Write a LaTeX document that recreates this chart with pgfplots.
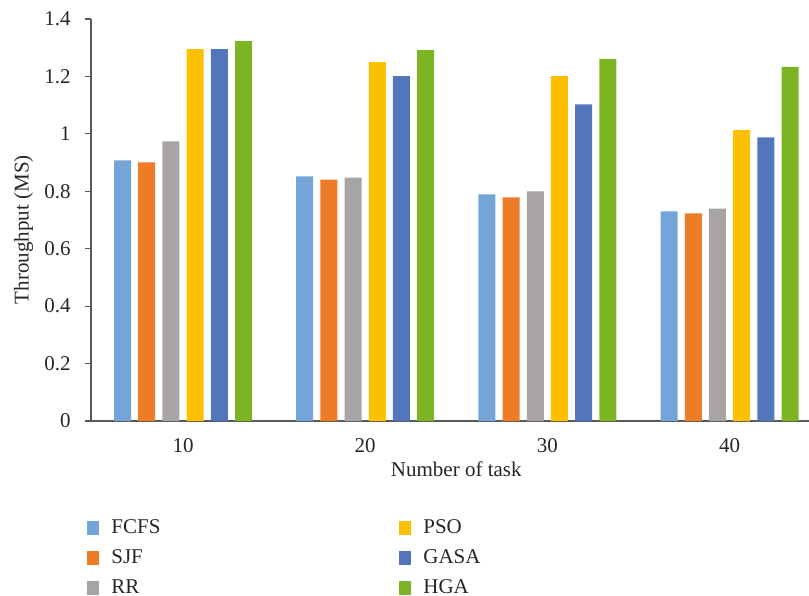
\documentclass[border=0pt]{standalone}
\usepackage{pgfplots}
\pgfplotsset{compat=1.18}
\usepackage{fontspec}
\setmainfont{Liberation Serif}

\definecolor{cFCFS}{HTML}{75A5D8}
\definecolor{cSJF}{HTML}{EE7B26}
\definecolor{cRR}{HTML}{A7A4A3}
\definecolor{cPSO}{HTML}{FCC000}
\definecolor{cGASA}{HTML}{5375BC}
\definecolor{cHGA}{HTML}{7CB424}
\definecolor{axisgray}{HTML}{595959}

\begin{document}
\begin{tikzpicture}
\fontsize{10.5}{12.5}\selectfont
\begin{axis}[
  scale only axis,
  width=359pt, height=201pt,
  ybar=3.6pt, bar width=8.5pt,
  xmin=-0.505, xmax=3.436,
  ymin=0, ymax=1.4,
  ytick={0,0.2,...,1.4},
  yticklabels={0,0.2,0.4,0.6,0.8,1,1.2,1.4},
  xtick={0,1,2,3}, xticklabels={10,20,30,40},
  axis lines=left,
  axis line style={-, draw=axisgray, line width=0.8pt},
  x tick style={draw=none},
  y tick style={draw=axisgray, line width=0.6pt},
  tick align=outside, major tick length=3pt,
  yticklabel style={xshift=-3.5pt},
  xticklabel style={yshift=-2pt},
  /pgf/number format/assume math mode=true,
  ticklabel style={font=\rmfamily\fontsize{10.5}{12.5}\selectfont, text=black!85},
  label style={font=\rmfamily\fontsize{10.5}{12.5}\selectfont, text=black!85},
  xlabel={Number of task},
  ylabel={Throughput (MS)},
  xlabel style={at={([yshift=-24pt]axis cs:1.5,0)}, anchor=center},
  ylabel style={at={([xshift=-33.75pt]rel axis cs:0,0.476)}, anchor=center},
  legend columns=3, transpose legend,
  legend cell align=left,
  legend style={at={(rel axis cs:0,0)}, anchor=north west,
    xshift=-2pt, yshift=-48pt, draw=none, fill=none, inner sep=0pt,
    font=\rmfamily\fontsize{10.5}{12.5}\selectfont, text=black!85,
    row sep=4.5pt,
    nodes={inner xsep=0pt, inner ysep=1pt},
    /tikz/every odd column/.append style={column sep=6pt}},
  legend image code/.code={\fill[#1] (0pt,-3.5pt) rectangle (6pt,3.5pt);},
]
\addplot[fill=cFCFS, draw=none] coordinates {(0,0.908) (1,0.852) (2,0.789) (3,0.730)};
\addlegendentry{\makebox[144pt][l]{FCFS}}
\addplot[fill=cSJF, draw=none] coordinates {(0,0.901) (1,0.841) (2,0.779) (3,0.723)};
\addlegendentry{\makebox[144pt][l]{SJF}}
\addplot[fill=cRR, draw=none] coordinates {(0,0.974) (1,0.848) (2,0.800) (3,0.740)};
\addlegendentry{\makebox[144pt][l]{RR}}
\addplot[fill=cPSO, draw=none] coordinates {(0,1.295) (1,1.250) (2,1.201) (3,1.013)};
\addlegendentry{PSO}
\addplot[fill=cGASA, draw=none] coordinates {(0,1.295) (1,1.201) (2,1.103) (3,0.988)};
\addlegendentry{GASA}
\addplot[fill=cHGA, draw=none] coordinates {(0,1.323) (1,1.292) (2,1.260) (3,1.233)};
\addlegendentry{HGA}
\coordinate (bl) at (rel axis cs:0,0);
\coordinate (tr) at (rel axis cs:1,1);
\end{axis}
\pgfresetboundingbox
\path ([shift={(-45.5pt,-87pt)}]bl) rectangle ([shift={(0pt,9.5pt)}]tr);
\end{tikzpicture}
\end{document}
